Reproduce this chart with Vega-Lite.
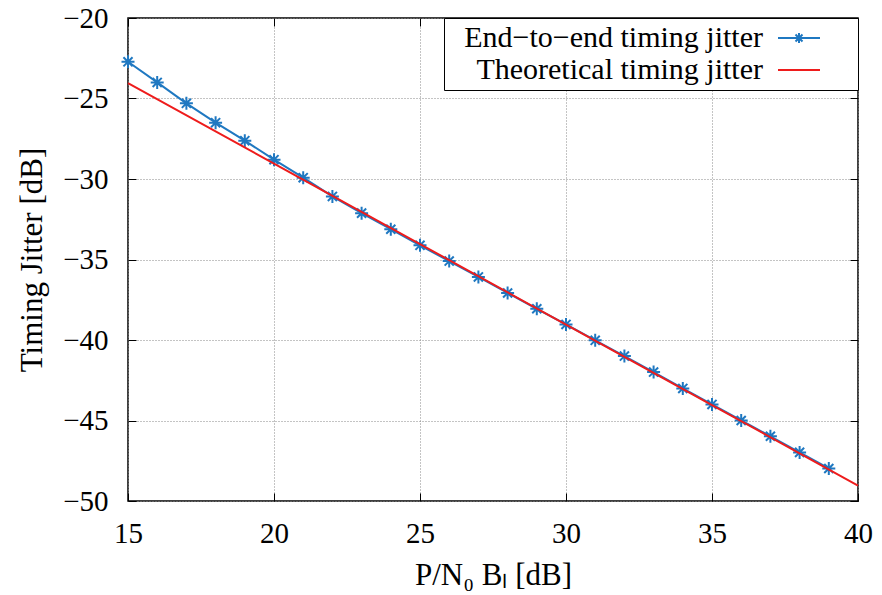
{
  "$schema": "https://vega.github.io/schema/vega-lite/v6.json",
  "width": 730,
  "height": 483,
  "autosize": {"type": "none"},
  "padding": {"left": 128, "top": 18, "right": 24, "bottom": 94},
  "background": "white",
  "config": {
    "view": {"stroke": "black", "strokeWidth": 1.5},
    "axis": {
      "labelFont": "Liberation Serif",
      "labelFontSize": 29,
      "labelColor": "black",
      "labelFlush": false,
      "titleFont": "Liberation Serif",
      "titleFontSize": 31,
      "titleFontWeight": "normal",
      "titleColor": "black",
      "domain": false,
      "tickColor": "black",
      "tickSize": -8,
      "tickWidth": 1,
      "gridColor": "#888888",
      "gridDash": [1, 2],
      "gridWidth": 1
    },
    "legend": {
      "labelFont": "Liberation Serif",
      "labelFontSize": 30,
      "labelColor": "black",
      "labelLimit": 500
    }
  },
  "data": {
    "values": [
      {"x": 15, "y": -22.72, "s": "End−to−end timing jitter"},
      {"x": 16, "y": -24.0, "s": "End−to−end timing jitter"},
      {"x": 17, "y": -25.3, "s": "End−to−end timing jitter"},
      {"x": 18, "y": -26.5, "s": "End−to−end timing jitter"},
      {"x": 19, "y": -27.62, "s": "End−to−end timing jitter"},
      {"x": 20, "y": -28.8, "s": "End−to−end timing jitter"},
      {"x": 21, "y": -29.92, "s": "End−to−end timing jitter"},
      {"x": 22, "y": -31.08, "s": "End−to−end timing jitter"},
      {"x": 23, "y": -32.12, "s": "End−to−end timing jitter"},
      {"x": 24, "y": -33.12, "s": "End−to−end timing jitter"},
      {"x": 25, "y": -34.12, "s": "End−to−end timing jitter"},
      {"x": 26, "y": -35.1, "s": "End−to−end timing jitter"},
      {"x": 27, "y": -36.08, "s": "End−to−end timing jitter"},
      {"x": 28, "y": -37.08, "s": "End−to−end timing jitter"},
      {"x": 29, "y": -38.06, "s": "End−to−end timing jitter"},
      {"x": 30, "y": -39.03, "s": "End−to−end timing jitter"},
      {"x": 31, "y": -40.02, "s": "End−to−end timing jitter"},
      {"x": 32, "y": -41.0, "s": "End−to−end timing jitter"},
      {"x": 33, "y": -41.99, "s": "End−to−end timing jitter"},
      {"x": 34, "y": -43.01, "s": "End−to−end timing jitter"},
      {"x": 35, "y": -44.0, "s": "End−to−end timing jitter"},
      {"x": 36, "y": -45.0, "s": "End−to−end timing jitter"},
      {"x": 37, "y": -45.98, "s": "End−to−end timing jitter"},
      {"x": 38, "y": -46.98, "s": "End−to−end timing jitter"},
      {"x": 39, "y": -47.98, "s": "End−to−end timing jitter"},
      {"x": 15, "y": -24.05, "s": "Theoretical timing jitter"},
      {"x": 20, "y": -29.04, "s": "Theoretical timing jitter"},
      {"x": 25, "y": -34.04, "s": "Theoretical timing jitter"},
      {"x": 30, "y": -39.04, "s": "Theoretical timing jitter"},
      {"x": 35, "y": -44.04, "s": "Theoretical timing jitter"},
      {"x": 40, "y": -49.04, "s": "Theoretical timing jitter"}
    ]
  },
  "resolve": {"axis": {"x": "independent", "y": "independent"}},
  "layer": [
    {
      "transform": [{"filter": "datum.s === 'End−to−end timing jitter'"}],
      "mark": {"type": "line", "strokeWidth": 2},
      "encoding": {
        "x": {
          "field": "x", "type": "quantitative",
          "scale": {"domain": [15, 40], "nice": false, "zero": false},
          "axis": {"orient": "bottom", "values": [15, 20, 25, 30, 35, 40], "title": "P/N₀ Bₗ [dB]", "labelPadding": 26, "titlePadding": 12, "grid": true}
        },
        "y": {
          "field": "y", "type": "quantitative",
          "scale": {"domain": [-50, -20], "nice": false, "zero": false},
          "axis": {"orient": "left", "values": [-50, -45, -40, -35, -30, -25, -20], "title": "Timing Jitter [dB]", "labelPadding": 28, "titlePadding": 14, "grid": true}
        },
        "color": {
          "field": "s", "type": "nominal",
          "scale": {"domain": ["End−to−end timing jitter", "Theoretical timing jitter"], "range": ["#1f78c1", "#ee1c1c"]},
          "legend": {
            "title": null,
            "orient": "top-right",
            "offset": 0,
            "strokeColor": "black",
            "fillColor": "white",
            "padding": 5,
            "symbolSize": 400,
            "symbolStrokeWidth": 2,
            "labelAlign": "right",
            "labelOffset": 284,
            "rowPadding": 2,
            "encode": {
              "symbols": {
                "update": {
                  "shape": {"signal": "datum.value === 'End−to−end timing jitter' ? 'M31.4,0H35.6M33.05,0H33.95M33.5,-0.5V0.5M33.15,-0.35L33.85,0.35M33.15,0.35L33.85,-0.35M38.4,0H38.401' : 'M31.4,0H35.6M38.4,0H38.401'"},
                  "strokeWidth": {"value": 2},
                  "fill": {"value": "transparent"}
                }
              }
            }
          }
        }
      }
    },
    {
      "transform": [{"filter": "datum.s === 'End−to−end timing jitter'"}],
      "mark": {"type": "point", "shape": "M-1,0H1M0,-1V1M-0.7,-0.7L0.7,0.7M-0.7,0.7L0.7,-0.7", "filled": false, "size": 169, "strokeWidth": 2, "opacity": 1},
      "encoding": {
        "x": {"field": "x", "type": "quantitative", "axis": null},
        "y": {"field": "y", "type": "quantitative", "axis": null},
        "color": {"field": "s", "type": "nominal"}
      }
    },
    {
      "transform": [{"filter": "datum.s === 'Theoretical timing jitter'"}],
      "mark": {"type": "line", "strokeWidth": 2},
      "encoding": {
        "x": {"field": "x", "type": "quantitative", "axis": {"orient": "top", "values": [15, 20, 25, 30, 35, 40], "labels": false, "title": null, "grid": false}},
        "y": {"field": "y", "type": "quantitative", "axis": {"orient": "right", "values": [-50, -45, -40, -35, -30, -25, -20], "labels": false, "title": null, "grid": false}},
        "color": {"field": "s", "type": "nominal"}
      }
    }
  ]
}
